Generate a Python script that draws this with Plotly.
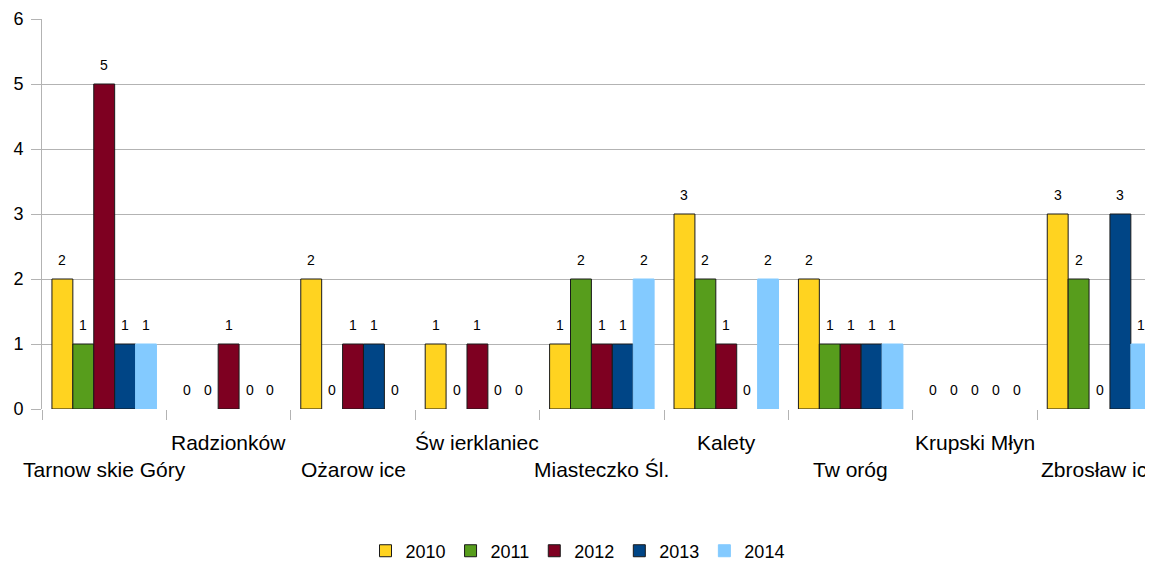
import plotly.graph_objects as go

categories = ["Tarnow skie Góry", "Radzionków", "Ożarow ice", "Św ierklaniec",
              "Miasteczko Śl.", "Kalety", "Tw oróg", "Krupski Młyn", "Zbrosław ice"]
years = ["2010", "2011", "2012", "2013", "2014"]
v2010 = [2, 0, 2, 1, 1, 3, 2, 0, 3]
v2011 = [1, 0, 0, 0, 2, 2, 1, 0, 2]
v2012 = [5, 1, 1, 1, 1, 1, 1, 0, 0]
v2013 = [1, 0, 1, 0, 1, 0, 1, 0, 3]
v2014 = [1, 0, 0, 0, 2, 2, 1, 0, 1]
series = [v2010, v2011, v2012, v2013, v2014]
colors = ["#FFD320", "#579D1C", "#7E0021", "#004586", "#83CAFF"]
borders = ["#1a1a1a", "#1a1a1a", "#1a1a1a", "#1a1a1a", "#83CAFF"]

FONT = "Liberation Sans, Arial, sans-serif"
BARGAP = 0.16
n = len(series)
barw = (1 - BARGAP) / n

fig = go.Figure()
for k, (name, vals, c, b) in enumerate(zip(years, series, colors, borders)):
    fig.add_trace(go.Bar(
        x=list(range(len(categories))), y=vals, name=name,
        marker=dict(color=c, line=dict(color=b, width=[1 if v > 0 else 0 for v in vals])),
    ))
    for i, v in enumerate(vals):
        fig.add_annotation(
            x=i + (k - (n - 1) / 2) * barw, xref="x", y=v, yref="y",
            text=str(v), showarrow=False, xanchor="center", yanchor="middle",
            yshift=19, font=dict(size=14, color="#000000", family=FONT),
        )

for i, cat in enumerate(categories):
    fig.add_annotation(
        x=i, xref="x", y=(-0.156 if i % 2 == 0 else -0.087), yref="paper",
        text=cat, showarrow=False, xanchor="center", yanchor="middle",
        font=dict(size=21, color="#000000", family=FONT),
    )

fig.update_layout(
    width=1145, height=553,
    margin=dict(l=34, r=0, t=11, b=152),
    paper_bgcolor="white", plot_bgcolor="white",
    barmode="group", bargap=BARGAP, bargroupgap=0,
    font=dict(family=FONT, color="#000000"),
    showlegend=True,
    legend=dict(orientation="h", x=0.482, xanchor="center",
                yref="container", y=0.018, yanchor="middle",
                font=dict(size=18, family=FONT), itemwidth=30, traceorder="normal"),
    xaxis=dict(
        range=[-0.5, 8.43], tickmode="array",
        tickvals=[i - 0.5 for i in range(len(categories))],
        showticklabels=False, ticks="outside", ticklen=10,
        tickcolor="#B3B3B3", showgrid=False, zeroline=False,
        showline=False, automargin=False,
    ),
    yaxis=dict(
        range=[0, 6], dtick=1, showgrid=True, gridcolor="#B3B3B3", gridwidth=1,
        ticks="outside", ticklen=10, tickcolor="#B3B3B3", ticklabelstandoff=4,
        tickfont=dict(size=18, family=FONT, color="#000000"),
        showline=True, linecolor="#B3B3B3", linewidth=1, zeroline=False,
        automargin=False,
    ),
)

fig.write_html("out.html")
